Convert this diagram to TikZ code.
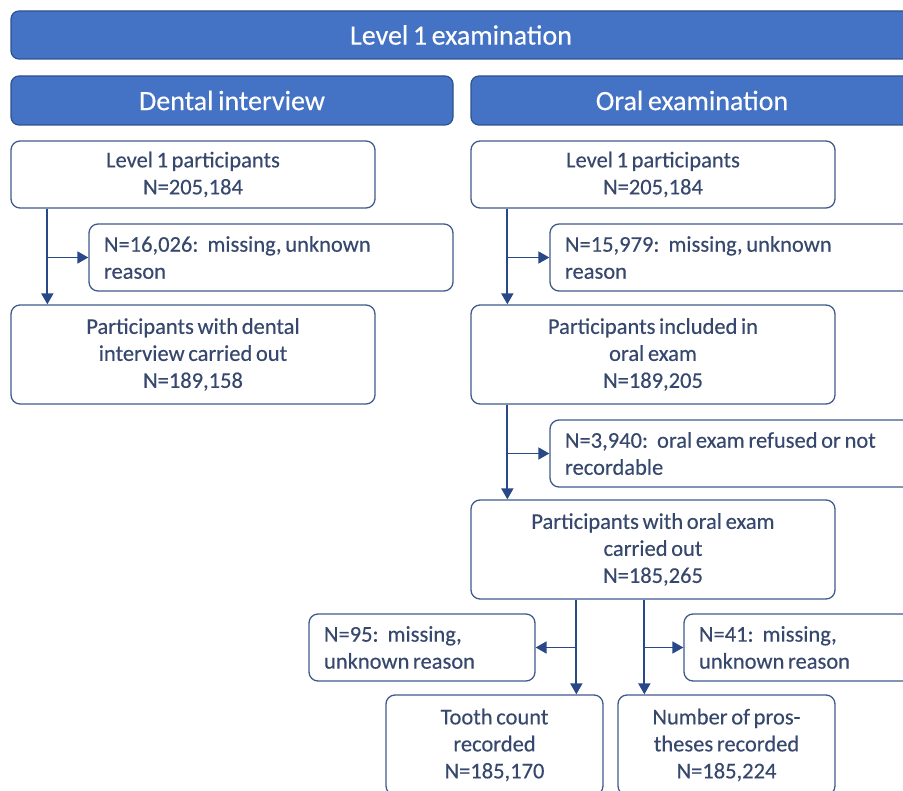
\documentclass[tikz,border=0pt]{standalone}
\usepackage{fontspec}
\setmainfont{Carlito}[WordSpace=0.72, FakeBold=0.3]
\usetikzlibrary{arrows.meta,calc}
\definecolor{bannerfill}{RGB}{68,114,196}
\definecolor{bannerline}{RGB}{47,82,143}
\definecolor{boxline}{RGB}{65,90,140}
\definecolor{txt}{RGB}{55,72,110}
\definecolor{arrc}{RGB}{40,72,135}
\newcommand{\gapsp}{\hspace{9pt}}
\begin{document}
\frenchspacing
\begin{tikzpicture}[x=1pt,y=-1pt,
  banner/.style={draw=bannerline, fill=bannerfill, line width=1.2pt, rounded corners=8pt,
    text=white, font=\fontsize{28}{32}\selectfont, inner sep=0pt},
  box/.style={draw=boxline, line width=1.3pt, rounded corners=9pt, fill=white, text=txt,
    font=\fontsize{22.5}{27}\selectfont, align=center, inner sep=0pt},
  lbox/.style={box, align=flush left, inner xsep=15pt},
  arr/.style={draw=arrc, line width=1.8pt, -{Triangle[length=11pt,width=12pt]}}]
\useasboundingbox (0,0) rectangle (903,791);
\fill[white] (0,0) rectangle (903,791);
\clip (0,0) rectangle (903,791);

\node[banner, minimum width=900pt, minimum height=48pt] (top) at (461,35) {Level 1 examination};
\node[banner, minimum width=442pt, minimum height=49pt] (dh) at (232,100.5) {Dental interview};
\node[banner, minimum width=442pt, minimum height=49pt] (oh) at (692,100.5) {Oral examination};

\node[box, minimum width=364pt, minimum height=67pt] (l1l) at (193,174.5) {Level 1 participants\\N=205,184};
\node[lbox, text width=334pt, minimum height=67pt] (ml) at (271,257.5) {N=16,026:\gapsp missing, unknown\\reason};
\node[box, minimum width=364pt, minimum height=99pt] (pl) at (193,354.5) {Participants with dental\\interview carried out\\N=189,158};

\node[box, minimum width=364pt, minimum height=67pt] (l1r) at (653,174.5) {Level 1 participants\\N=205,184};
\node[lbox, text width=335pt, minimum height=67pt] (mr) at (732.5,257.5) {N=15,979:\gapsp missing, unknown\\reason};
\node[box, minimum width=364pt, minimum height=99pt] (pi) at (653,354.5) {Participants included in\\oral exam\\N=189,205};
\node[lbox, text width=335pt, minimum height=67pt] (rf) at (732.5,453.5) {N=3,940:\gapsp oral exam refused or not\\recordable};
\node[box, minimum width=364pt, minimum height=99pt] (po) at (653,549.5) {Participants with oral exam\\carried out\\N=185,265};

\node[lbox, text width=196pt, minimum height=67pt] (n95) at (422,647.5) {N=95:\gapsp missing,\\unknown reason};
\node[lbox, text width=201pt, minimum height=67pt] (n41) at (799.5,647.5) {N=41:\gapsp missing,\\unknown reason};
\node[box, minimum width=217pt, minimum height=100pt] (tc) at (494.5,745) {Tooth count\\recorded\\N=185,170};
\node[box, minimum width=217pt, minimum height=100pt] (np) at (726.5,745) {Number of pros-\\theses recorded\\N=185,224};

\draw[arr] ([xshift=37pt]l1l.south west) coordinate (a1) -- (a1 |- pl.north);
\draw[arr] (a1 |- ml.west) -- (ml.west);
\draw[arr] ([xshift=37pt]l1r.south west) coordinate (a2) -- (a2 |- pi.north);
\draw[arr] (a2 |- mr.west) -- (mr.west);
\draw[arr] ([xshift=37pt]pi.south west) coordinate (a3) -- (a3 |- po.north);
\draw[arr] (a3 |- rf.west) -- (rf.west);
\draw[arr] ([xshift=106pt]po.south west) coordinate (a4) -- (a4 |- tc.north);
\draw[arr] (a4 |- n95.east) -- (n95.east);
\draw[arr] ([xshift=174pt]po.south west) coordinate (a5) -- (a5 |- np.north);
\draw[arr] (a5 |- n41.west) -- (n41.west);
\end{tikzpicture}
\end{document}
